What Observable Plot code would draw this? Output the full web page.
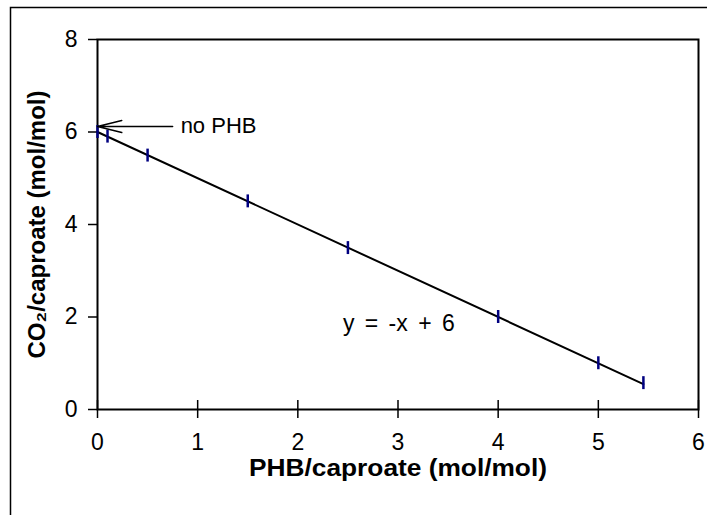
<!DOCTYPE html>
<html>
<head>
<meta charset="utf-8">
<script src="https://cdn.jsdelivr.net/npm/d3@7"></script>
<script src="https://cdn.jsdelivr.net/npm/@observablehq/plot@0.6"></script>
<style>
  html, body { margin: 0; padding: 0; background: #fff; }
  svg text { font-family: "Liberation Sans", Arial, sans-serif; }
</style>
</head>
<body>
<div id="chart"></div>
<script>
// Measured points (PHB/caproate vs CO2/caproate) with error bar half-widths
const phb = [0, 0.1, 0.5, 1.5, 2.5, 4.0, 5.0, 5.45];
const co2 = [6.0, 5.9, 5.49, 4.5, 3.49, 2.0, 1.0, 0.57];
const err = [0.14, 0.14, 0.14, 0.14, 0.14, 0.14, 0.14, 0.14];
// Fitted line y = -x + 6
const fitX = [0, 5.45];
const fitY = [6, 0.55];
const xTicks = [0, 1, 2, 3, 4, 5, 6];
const yTicks = [0, 2, 4, 6, 8];
const xTitle = "PHB/caproate (mol/mol)";
const yTitle = "CO\u2082/caproate (mol/mol)";
const eqLabel = "y = -x + 6";
const noteLabel = "no PHB";
const notePos = {x: 0.83, y: 6.12};
const arrowFrom = {x: 0.75, y: 6.12};
const arrowTo = {x: 0.0, y: 6.12};
const eqPos = {x: 2.45, y: 1.85};

const points = phb.map((x, i) => ({x, y: co2[i], lo: co2[i] - err[i], hi: co2[i] + err[i]}));
const fit = fitX.map((x, i) => ({x, y: fitY[i]}));

const chart = Plot.plot({
  width: 707,
  height: 515,
  marginLeft: 97,
  marginRight: 9,
  marginTop: 39,
  marginBottom: 106,
  style: {fontFamily: "Liberation Sans, Arial, sans-serif", fontSize: "22px", color: "#000", background: "#fff"},
  x: {domain: [0, 6]},
  y: {domain: [0, 8]},
  marks: [
    Plot.frame({stroke: "#000", strokeWidth: 2}),
    Plot.axisX(xTicks, {tickSize: 0, tickPadding: 24, fontSize: 23, label: null, fill: "#000"}),
    Plot.axisX(xTicks, {tickSize: 18, dy: -9, text: null, label: null, stroke: "#000", strokeWidth: 1.5}),
    Plot.axisY(yTicks, {tickSize: 9, tickPadding: 11, fontSize: 23, label: null, stroke: "#000", strokeWidth: 1.5, fill: "#000"}),
    Plot.line(fit, {x: "x", y: "y", stroke: "#000", strokeWidth: 2}),
    Plot.ruleX(points, {x: "x", y1: "lo", y2: "hi", stroke: "#000080", strokeWidth: 2.5}),
    Plot.arrow([0], {x1: () => arrowFrom.x, y1: () => arrowFrom.y, x2: () => arrowTo.x, y2: () => arrowTo.y, stroke: "#000", strokeWidth: 1.5, headAngle: 28, headLength: 25}),
    Plot.text([noteLabel], {x: () => notePos.x, y: () => notePos.y, text: d => d, textAnchor: "start", fontSize: 22, fill: "#000"}),
    Plot.text([eqLabel], {x: () => eqPos.x, y: () => eqPos.y, text: d => d, textAnchor: "start", fontSize: 23, fill: "#000", className: "eq"}),
    Plot.text([xTitle], {frameAnchor: "bottom", dy: 66, text: d => d, fontSize: 24, fontWeight: "bold", fill: "#000", className: "xtitle"}),
    Plot.text([yTitle], {frameAnchor: "left", dx: -60, rotate: -90, textAnchor: "middle", text: d => d, fontSize: 24, fontWeight: "bold", fill: "#000"})
  ]
});

d3.select(chart).selectAll(".eq text").style("word-spacing", "4px");
d3.select(chart).selectAll(".xtitle text")
  .attr("textLength", 298)
  .attr("lengthAdjust", "spacingAndGlyphs");

d3.select(chart).append("path")
  .attr("d", "M10.5,515V7.5H707")
  .attr("fill", "none")
  .attr("stroke", "#000")
  .attr("stroke-width", 1.5);

document.getElementById("chart").appendChild(chart);
</script>
</body>
</html>
